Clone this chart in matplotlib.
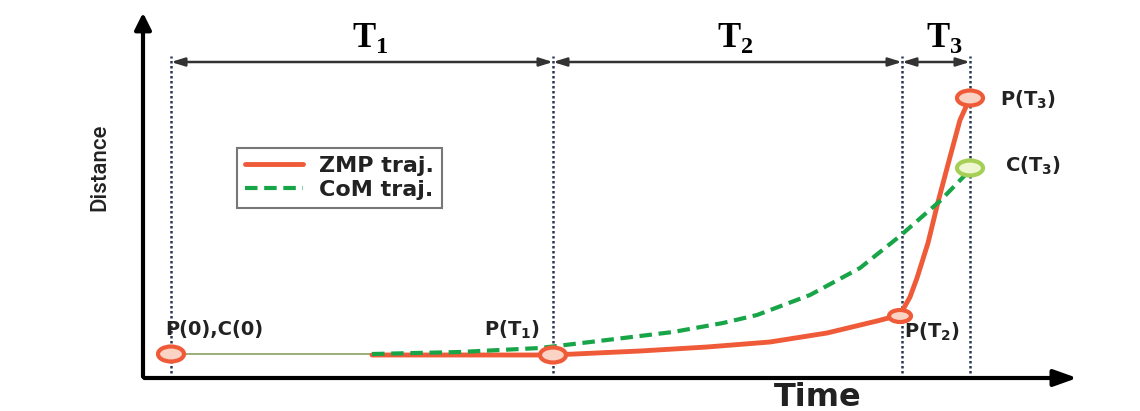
import matplotlib.pyplot as plt
from matplotlib.patches import Ellipse

# phase boundaries (time units)
t_marks = [28, 410, 759, 827]
phase_labels = [r"$\mathbf{T}_\mathbf{1}$", r"$\mathbf{T}_\mathbf{2}$", r"$\mathbf{T}_\mathbf{3}$"]

# ZMP trajectory (thin lead-in, then thick curve)
zmp_lead_t = [28, 229]
zmp_lead_d = [24, 24]
zmp_t = [229, 410, 497, 564, 627, 684, 734, 757, 767, 774, 785, 795, 807, 817, 827]
zmp_d = [23, 23, 27, 31, 36, 45, 57, 63, 81, 100, 135, 176, 221, 258, 280]

# CoM trajectory
com_t = [229, 317, 397, 464, 530, 580, 614, 667, 717, 757, 797, 827]
com_d = [24, 26, 30, 38, 46, 55, 63, 83, 110, 142, 177, 208]

# key points
pts_t = [28, 410, 757, 827]
pts_d = [24, 23, 62, 280]
c3_t, c3_d = 827, 210

RED = "#ef5a38"
GREEN = "#17a548"

plt.rcParams['font.family'] = ['DejaVu Sans']
plt.rcParams['mathtext.fontset'] = 'custom'
plt.rcParams['mathtext.rm'] = 'Liberation Serif'
plt.rcParams['mathtext.bf'] = 'Liberation Serif:bold'
plt.rcParams['mathtext.sf'] = 'DejaVu Sans:bold'

fig = plt.figure(figsize=(11.4, 4.11), dpi=100)
ax = fig.add_axes([0, 0, 1, 1])
ax.set_xlim(-143, 997)
ax.set_ylim(-33, 378)
ax.axis('off')

# axes with arrows
ax.annotate("", xy=(0, 368), xytext=(0, -1.5),
            arrowprops=dict(arrowstyle="-|>,head_width=0.5,head_length=1.0", lw=3, color="black"))
ax.annotate("", xy=(937, 0), xytext=(-1.5, 0),
            arrowprops=dict(arrowstyle="-|>,head_width=0.5,head_length=1.4", lw=3, color="black"))

# dotted phase boundaries
for t in t_marks:
    ax.plot([t, t], [0, 322], ls=(0, (1, 1)), lw=1.8, color="#2b3855", zorder=1)

# phase arrows + labels
for i in range(3):
    ax.annotate("", xy=(t_marks[i + 1], 316), xytext=(t_marks[i], 316),
                arrowprops=dict(arrowstyle="<|-|>,head_width=0.25,head_length=0.8", lw=1.8,
                                color="#333333", shrinkA=0, shrinkB=0))
    ax.text((t_marks[i] + t_marks[i + 1]) / 2 + 8, 323, phase_labels[i], ha="center", va="bottom",
            fontsize=25)

# trajectories
ax.plot(zmp_lead_t, zmp_lead_d, color="#8aa060", lw=1.2, zorder=2)
ax.plot(zmp_t, zmp_d, color=RED, lw=3.5, zorder=3, label="ZMP traj.", solid_capstyle="round",
        solid_joinstyle="round")
ax.plot(com_t, com_d, color=GREEN, lw=3, ls=(0, (3, 1.6)), zorder=4, label="CoM traj.")

# markers (ring-like ellipses)
for i, (t, d) in enumerate(zip(pts_t, pts_d)):
    w, h = (22, 12) if i == 2 else (26, 15)
    ax.add_patch(Ellipse((t, d), w, h, facecolor="#fbd3c4", edgecolor=RED, lw=3, zorder=5))
ax.add_patch(Ellipse((c3_t, c3_d), 26, 15, facecolor="#eef7d2", edgecolor="#a5cf55", lw=3, zorder=5))

# point labels
lab = dict(fontsize=14, fontweight="bold", color="#222222")
ax.text(22, 48, "P(0),C(0)", ha="left", va="center", **lab)
ax.text(397, 48, r"P(T$_\mathsf{1}$)", ha="right", va="center", **lab)
ax.text(761, 46, r"P(T$_\mathsf{2}$)", ha="left", va="center", **lab)
ax.text(857, 278, r"P(T$_\mathsf{3}$)", ha="left", va="center", **lab)
ax.text(862, 212, r"C(T$_\mathsf{3}$)", ha="left", va="center", **lab)

# axis labels
ax.text(-43, 211, "Distance", rotation=90, ha="center", va="center", fontsize=16,
        family="Roboto", fontweight="medium", color="#222222")
ax.text(675, -19, "Time", ha="center", va="center", fontsize=23, fontweight="bold", color="#222222")

leg = ax.legend(loc="upper left", bbox_to_anchor=(0.208, 0.64), borderaxespad=0,
                prop=dict(size=16, weight="bold"), frameon=True,
                fancybox=False, edgecolor="#555555", handlelength=2.6, borderpad=0.35,
                labelspacing=0.2, handletextpad=0.75)
leg.get_frame().set_linewidth(1.5)
for t in leg.get_texts():
    t.set_color("#222222")

fig.savefig("out.png", dpi=100)
